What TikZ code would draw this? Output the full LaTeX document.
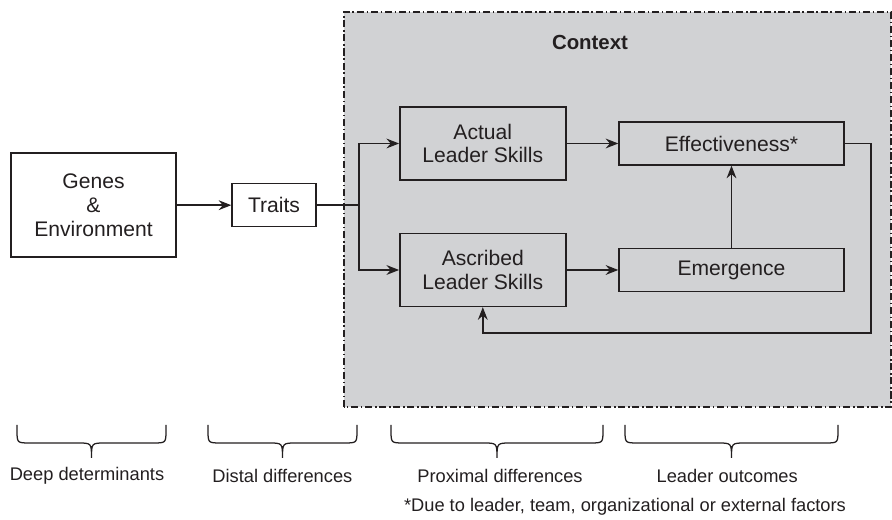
\documentclass[tikz,border=0pt]{standalone}
\usepackage{fontspec}
\setmainfont{Liberation Sans}
\usetikzlibrary{arrows.meta,calc}
\definecolor{ctxgray}{RGB}{209,210,212}
\definecolor{inkgray}{RGB}{35,31,32}
\tikzstyle{box} = [rectangle, draw=inkgray, line width=1pt, align=center, inner sep=0pt, text=inkgray, font=\fontsize{15}{17}\selectfont]
\tikzstyle{arrow} = [draw=inkgray, line width=1pt, -{Stealth[length=9pt,width=7pt,inset=3pt]}]
\tikzstyle{link} = [draw=inkgray, line width=1pt]
\tikzstyle{ctxbox} = [draw=inkgray, fill=ctxgray, line width=0.9pt, dash pattern=on 5pt off 2pt on 1pt off 2pt]
\tikzstyle{bracket} = [draw=inkgray, line width=0.9pt]
\tikzstyle{stage} = [text=inkgray, font=\fontsize{13}{15}\selectfont]
\newcommand{\stagebrace}[2]{%
  \draw[bracket] (#1,2.375) -- (#1,2.25) .. controls (#1,1.925) .. ({#1+0.33},1.925)
    -- ({(#1+#2)/2-0.35},1.925) .. controls ({(#1+#2)/2},1.925) .. ({(#1+#2)/2},1.55)
    .. controls ({(#1+#2)/2},1.925) .. ({(#1+#2)/2+0.35},1.925)
    -- ({#2-0.33},1.925) .. controls (#2,1.925) .. (#2,2.25) -- (#2,2.375);}

\begin{document}
\begin{tikzpicture} %[every node/.style={draw}]
\useasboundingbox (0,0) rectangle (22.3,13);
\draw[ctxbox] (8.6,2.825) rectangle (22.275,12.7);
\draw (14.75,11.95) node (ctx) [text=inkgray, font=\bfseries\fontsize{14.5}{17}\selectfont] {Context};
\draw (2.3375,7.87) node (genes) [box, minimum width=4.125cm, minimum height=2.6cm] {Genes\\\&\\Environment};
\draw (6.85,7.87) node (traits) [box, minimum width=2.1cm, minimum height=1.075cm] {Traits};
\draw (12.07,9.4125) node (actual) [box, minimum width=4.15cm, minimum height=1.825cm] {Actual\\Leader Skills};
\draw (12.07,6.25) node (ascribed) [box, minimum width=4.15cm, minimum height=1.825cm] {Ascribed\\Leader Skills};
\draw (18.2875,9.4125) node (effect) [box, minimum width=5.625cm, minimum height=1.075cm] {Effectiveness*};
\draw (18.2875,6.25) node (emerge) [box, minimum width=5.625cm, minimum height=1.075cm] {Emergence};
\coordinate (split) at (8.975,7.87);
\coordinate (back) at (21.775,4.675);
\draw[arrow] (genes)--(traits);
\draw[link] (traits)--(split);
\draw[arrow] (split) |- (actual);
\draw[arrow] (split) |- (ascribed);
\draw[arrow] (actual)--(effect);
\draw[arrow] (ascribed)--(emerge);
\draw[arrow] (emerge)--(effect);
\draw[arrow] (effect) -| (back) -| (ascribed);
\stagebrace{0.425}{4.15}
\stagebrace{5.2}{8.925}
\stagebrace{9.775}{15.075}
\stagebrace{15.625}{20.95}
\draw (2.175,1.1) node (deep) [stage] {Deep determinants};
\draw (7.06,1.1) node (distal) [stage] {Distal differences};
\draw (12.5,1.1) node (proximal) [stage] {Proximal differences};
\draw (18.18,1.1) node (outcome) [stage] {Leader outcomes};
\draw (15.625,0.325) node (note) [stage] {*Due to leader, team, organizational or external factors};
\end{tikzpicture}
\end{document}
